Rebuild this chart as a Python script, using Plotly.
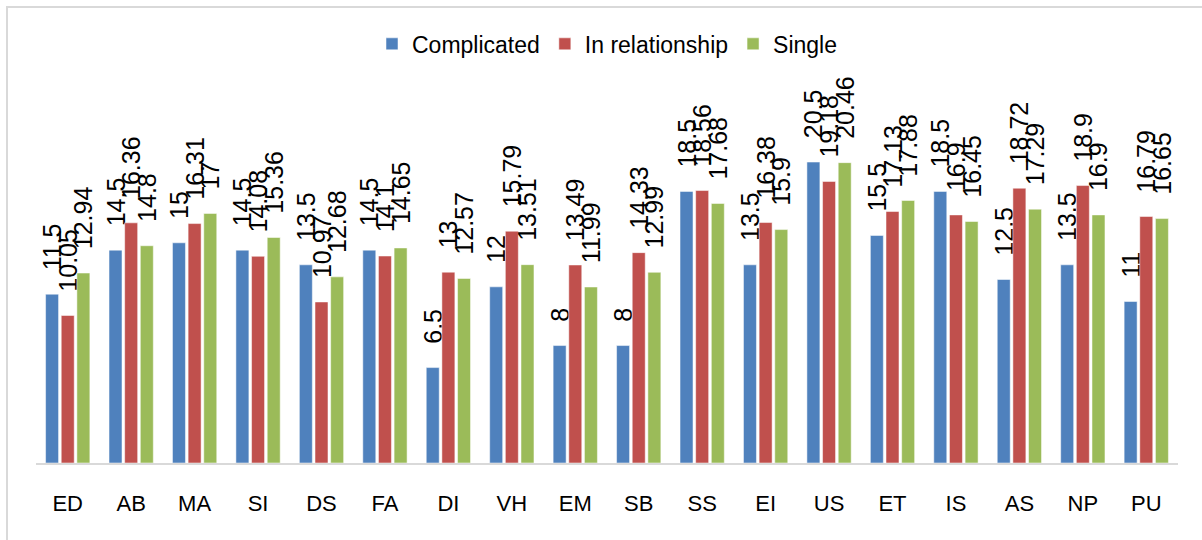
import plotly.graph_objects as go

categories = ['ED', 'AB', 'MA', 'SI', 'DS', 'FA', 'DI', 'VH', 'EM', 'SB',
              'SS', 'EI', 'US', 'ET', 'IS', 'AS', 'NP', 'PU']

complicated = [11.5, 14.5, 15, 14.5, 13.5, 14.5, 6.5, 12, 8, 8,
               18.5, 13.5, 20.5, 15.5, 18.5, 12.5, 13.5, 11]
in_relationship = [10.05, 16.36, 16.31, 14.08, 10.97, 14.1, 13, 15.79, 13.49, 14.33,
                   18.56, 16.38, 19.18, 17.13, 16.9, 18.72, 18.9, 16.79]
single = [12.94, 14.8, 17, 15.36, 12.68, 14.65, 12.57, 13.51, 11.99, 12.99,
          17.68, 15.9, 20.46, 17.88, 16.45, 17.29, 16.9, 16.65]

series = [('Complicated', complicated, '#4F81BD'),
          ('In relationship', in_relationship, '#C0504D'),
          ('Single', single, '#9BBB59')]

font_family = 'Arial, "Liberation Sans", sans-serif'

fig = go.Figure()
for name, values, color in series:
    fig.add_trace(go.Bar(
        x=categories, y=values, name=name,
        marker=dict(color=color, line=dict(color='rgba(255,255,255,0.5)', width=1)),
        text=[f'{v:g}' for v in values],
        # a little breathing room between bar top and the rotated label, like Excel
        texttemplate='\u00a0\u00a0\u00a0%{text}',
        textposition='outside',
        textangle=-90,
        constraintext='none',
        cliponaxis=False,
        textfont=dict(size=25, color='black', family=font_family),
    ))

fig.update_layout(
    width=1202, height=540,
    margin=dict(l=36, r=24, t=96, b=77),
    paper_bgcolor='white',
    plot_bgcolor='white',
    barmode='group',
    bargap=0.26,
    bargroupgap=0.17,
    font=dict(family=font_family, color='black'),
    showlegend=True,
    legend=dict(orientation='h', x=0.5, xanchor='center', y=1.142, yanchor='middle',
                font=dict(size=23), itemwidth=30, traceorder='normal'),
    shapes=[dict(type='rect', xref='paper', yref='paper',
                 x0=-29 / 1142, x1=1.2, y0=-0.4, y1=1 + 89 / 367,
                 line=dict(color='#d9d9d9', width=2), layer='below')],
)

fig.update_xaxes(showline=True, linecolor='#d9d9d9', linewidth=2, ticks='',
                 showgrid=False, tickfont=dict(size=22), ticklabelstandoff=20)
fig.update_yaxes(visible=False, range=[0, 25], showgrid=False, zeroline=False)

fig.write_html("out.html", config={'displayModeBar': False},
               post_script="document.body.style.margin='0';")
